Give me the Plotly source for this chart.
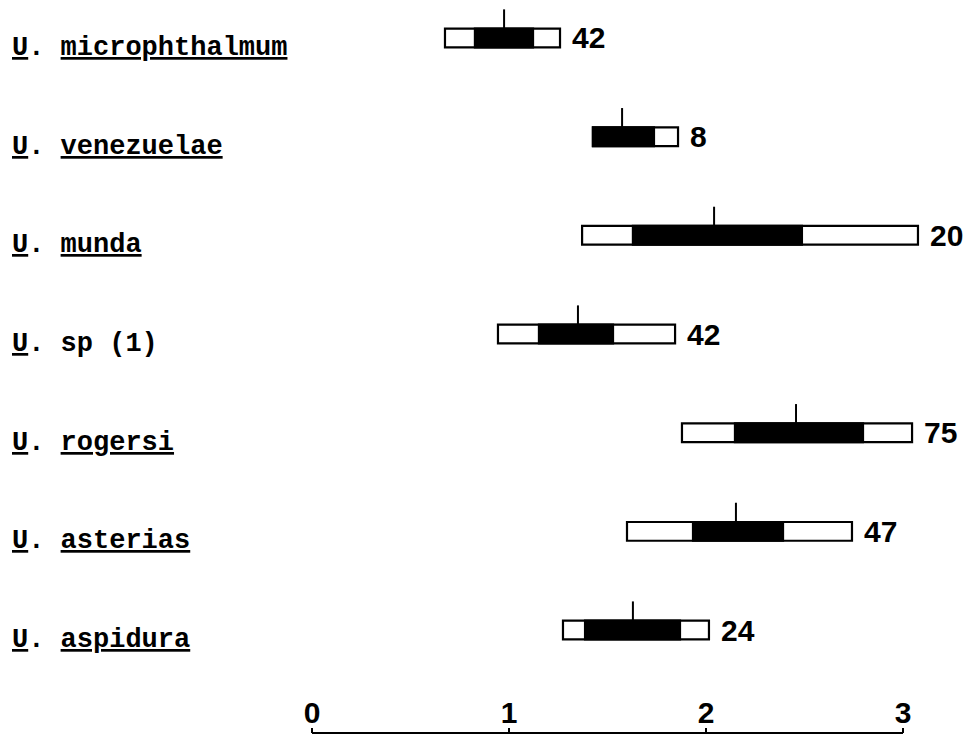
import plotly.graph_objects as go

# Species (top to bottom)
species = [
    "<u>U</u>. <u>microphthalmum</u>",
    "<u>U</u>. <u>venezuelae</u>",
    "<u>U</u>. <u>munda</u>",
    "<u>U</u>. sp (1)",
    "<u>U</u>. <u>rogersi</u>",
    "<u>U</u>. <u>asterias</u>",
    "<u>U</u>. <u>aspidura</u>",
]

# Full range (open box), inner interval (solid box), mean tick and sample size
range_lo = [0.675, 1.426, 1.371, 0.944, 1.878, 1.599, 1.274]
range_hi = [1.259, 1.858, 3.076, 1.843, 3.046, 2.741, 2.015]
inner_lo = [0.827, 1.426, 1.629, 1.152, 2.147, 1.934, 1.386]
inner_hi = [1.122, 1.736, 2.487, 1.528, 2.797, 2.391, 1.868]
means = [0.975, 1.574, 2.041, 1.350, 2.457, 2.152, 1.629]
counts = [42, 8, 20, 42, 75, 47, 24]

tick_values = [0, 1, 2, 3]

rows = list(range(len(species)))
BOX_H = 0.19
AXIS_POS = 0.004  # paper height of the scale bar

L_MARGIN, R_MARGIN, UNIT = 312, 8, 197
x_max = (970 - L_MARGIN - R_MARGIN) / UNIT

fig = go.Figure()

# open box: whole range
fig.add_trace(go.Bar(
    y=rows, x=[h - l for l, h in zip(range_lo, range_hi)], base=range_lo,
    orientation="h", width=BOX_H,
    marker=dict(color="white", line=dict(color="black", width=2.2)),
    hoverinfo="skip",
))
# solid box: inner interval
fig.add_trace(go.Bar(
    y=rows, x=[h - l for l, h in zip(inner_lo, inner_hi)], base=inner_lo,
    orientation="h", width=BOX_H,
    marker=dict(color="black", line=dict(color="black", width=2.2)),
    hoverinfo="skip",
))

# mean ticks rising above each box
tx, ty = [], []
for r, m in zip(rows, means):
    tx += [m, m, None]
    ty += [r - BOX_H / 2, r - 0.29, None]
fig.add_trace(go.Scatter(
    x=tx, y=ty, mode="lines", line=dict(color="black", width=2),
    hoverinfo="skip",
))

fig.update_layout(barmode="overlay")

# species names on the left
for r, name in zip(rows, species):
    fig.add_annotation(
        x=(10 - L_MARGIN) / (970 - L_MARGIN - R_MARGIN), xref="paper",
        y=r, yref="y",
        text=f"<b>{name}</b>", showarrow=False, xanchor="left", yanchor="middle",
        yshift=-10,
        font=dict(family="Liberation Mono", size=27, color="black"),
    )

# sample sizes to the right of each box
for r, hi, n in zip(rows, range_hi, counts):
    fig.add_annotation(
        x=hi, xref="x", y=r, yref="y",
        text=f"<b>{n}</b>", showarrow=False, xanchor="left", yanchor="middle",
        xshift=10,
        font=dict(family="Liberation Sans", size=30, color="black"),
    )

# scale bar line spanning the labelled ticks
fig.add_shape(
    type="line", xref="x", yref="paper",
    x0=tick_values[0], x1=tick_values[-1], y0=AXIS_POS, y1=AXIS_POS,
    line=dict(color="black", width=2),
)

fig.update_layout(
    width=970, height=736,
    margin=dict(l=L_MARGIN, r=R_MARGIN, t=0, b=0),
    paper_bgcolor="white", plot_bgcolor="white",
    showlegend=False,
    xaxis=dict(
        range=[0, x_max], side="top", anchor="free", position=AXIS_POS,
        showline=False,
        ticks="outside", ticklen=5, tickwidth=2, tickcolor="black",
        ticklabelstandoff=-7,
        tickvals=tick_values, ticktext=[f"<b>{v}</b>" for v in tick_values],
        tickfont=dict(family="Liberation Sans", size=30, color="black"),
        showgrid=False, zeroline=False, fixedrange=True,
    ),
    yaxis=dict(
        range=[7.074, -0.385], visible=False, showgrid=False,
        zeroline=False, fixedrange=True,
    ),
)

fig.write_html("out.html")
